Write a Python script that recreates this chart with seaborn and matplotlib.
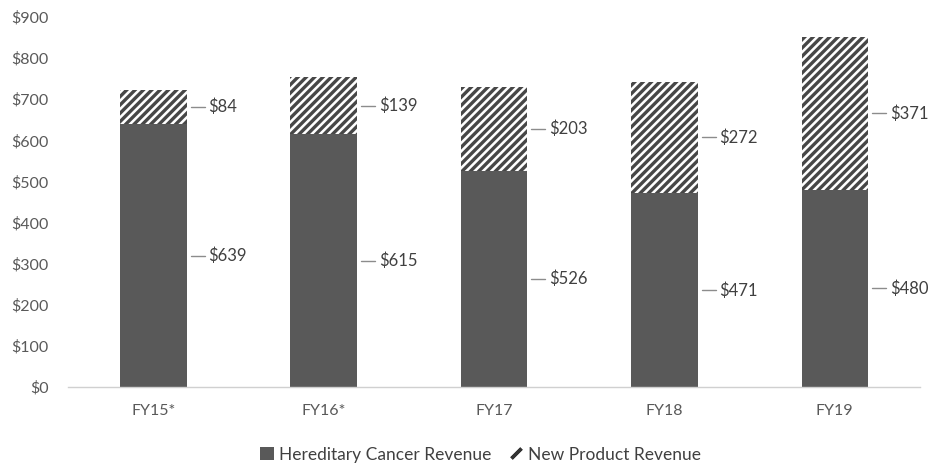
import matplotlib
matplotlib.use("Agg")
import matplotlib.pyplot as plt
from matplotlib.patches import Patch
from matplotlib.lines import Line2D
import seaborn as sns
import pandas as pd

# Revenue by fiscal year ($ millions)
years = ["FY15*", "FY16*", "FY17", "FY18", "FY19"]
hereditary = [639, 615, 526, 471, 480]
new_product = [84, 139, 203, 272, 371]
y_ticks = [0, 100, 200, 300, 400, 500, 600, 700, 800, 900]

sns.set_theme(style="white")
plt.rcParams["font.family"] = ["Lato", "DejaVu Sans"]
plt.rcParams["hatch.linewidth"] = 2.4
plt.rcParams["hatch.color"] = "#474747"

df = pd.DataFrame({
    "year": years,
    "hereditary": hereditary,
    "new": new_product,
})
df["total"] = df["hereditary"] + df["new"]

fig = plt.figure(figsize=(9.33, 4.71), dpi=100)
ax = fig.add_axes([0.073, 0.178, 0.913, 0.786])

bar_w = 0.39
dark = "#595959"
text_c = "#404040"

# Stacked bars: total (hatched) underneath, hereditary drawn on top
sns.barplot(data=df, x="year", y="total", ax=ax, width=bar_w,
            color="white", edgecolor="#474747", linewidth=0, hatch="////",
            saturation=1)
sns.barplot(data=df, x="year", y="hereditary", ax=ax, width=bar_w,
            color=dark, linewidth=0, saturation=1)

# Value labels with short leader lines
for i, (h, n) in enumerate(zip(hereditary, new_product)):
    x0 = i + bar_w / 2 + 0.024
    x1 = i + bar_w / 2 + 0.106
    for yv, val in ((h / 2, h), (h + n / 2, n)):
        ax.plot([x0, x1], [yv, yv], color="#8c8c8c", lw=1.0)
        ax.text(i + bar_w / 2 + 0.128, yv, f"${val}", ha="left",
                va="center", fontsize=12, color=text_c)

ax.set_ylim(0, 900)
ax.set_xlim(-0.5, len(years) - 0.5)
ax.set_yticks(y_ticks)
ax.set_yticklabels([f"${v}" for v in y_ticks])
ax.set_xlabel("")
ax.set_ylabel("")
ax.tick_params(axis="both", length=0, labelsize=11.5, colors="#595959")
ax.tick_params(axis="y", pad=14)
ax.tick_params(axis="x", pad=12)

for s in ["top", "right", "left"]:
    ax.spines[s].set_visible(False)
ax.spines["bottom"].set_color("#d0d0d0")
ax.spines["bottom"].set_linewidth(1.0)

handles = [
    Patch(facecolor=dark, edgecolor="none", label="Hereditary Cancer Revenue"),
    Line2D([], [], linestyle="none", marker=(2, 2, -45), markersize=10,
           markeredgewidth=2.5, color="#333333", label="New Product Revenue"),
]
fig.legend(handles=handles, loc="center", bbox_to_anchor=(0.515, 0.035),
           ncol=2, frameon=False, fontsize=12.5, handlelength=0.8,
           handleheight=0.8, handletextpad=0.3, columnspacing=1.0,
           labelcolor="#404040")

fig.savefig("out.png", dpi=100, facecolor="white")
